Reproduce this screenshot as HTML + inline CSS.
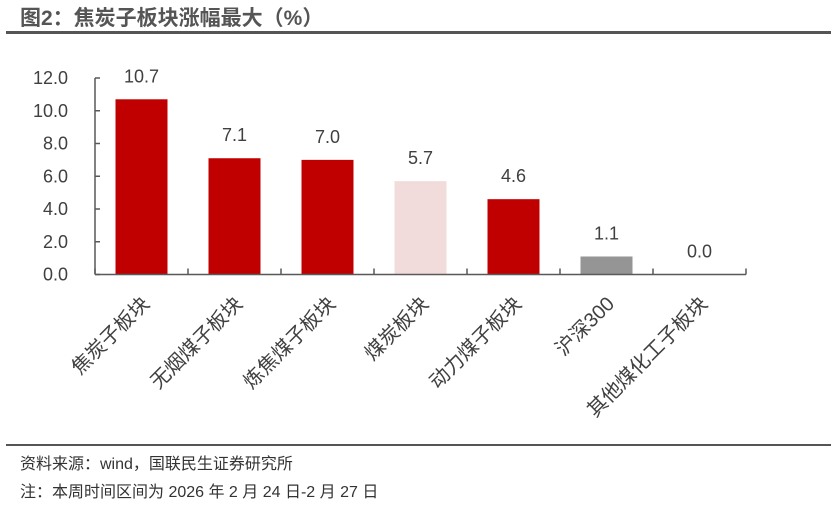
<!DOCTYPE html>
<html><head><meta charset="utf-8"><style>
body{margin:0;background:#fff;width:831px;height:507px;overflow:hidden;font-family:"Liberation Sans","Noto Sans CJK SC",sans-serif;}
</style></head><body>
<svg width="831" height="507" xmlns="http://www.w3.org/2000/svg" font-family="Liberation Sans, Noto Sans CJK SC, sans-serif">
<text x="20" y="25" font-size="21" font-weight="bold" fill="#555">图2：焦炭子板块涨幅最大（%）</text>
<rect x="6" y="31" width="825" height="3" fill="#555"/>
<g id="chart"></g>
<rect x="6" y="444" width="825" height="2" fill="#555"/>
<text x="20" y="469" font-size="16" fill="#333">资料来源：wind，国联民生证券研究所</text>
<text x="20" y="497" font-size="16" fill="#333">注：本周时间区间为 2026 年 2 月 24 日-2 月 27 日</text>
</svg>
<script>
const categories=["焦炭子板块","无烟煤子板块","炼焦煤子板块","煤炭板块","动力煤子板块","沪深300","其他煤化工子板块"];
const values=[10.7,7.1,7.0,5.7,4.6,1.1,0.0];
const barColors=["#C00000","#C00000","#C00000","#F2DCDB","#C00000","#959595","#C00000"];
const yTicks=[0,2,4,6,8,10,12];
const NS="http://www.w3.org/2000/svg";
const g=document.getElementById('chart');
const x0=95,x1=746,yBase=274.5,yTop=78,yMax=12;
const bw=(x1-x0)/categories.length;
const y=v=>yBase-(v/yMax)*(yBase-yTop);
const cx=i=>x0+bw*(i+0.5);
function el(t,a){const e=document.createElementNS(NS,t);for(const k in a)e.setAttribute(k,a[k]);g.appendChild(e);return e;}
const ya=el('line',{x1:x0,y1:yTop,x2:x0,y2:yBase,stroke:'#595959','stroke-width':1.5});


yTicks.forEach(t=>{
  const tk=el('line',{x1:x0,y1:y(t),x2:x0+5,y2:y(t),stroke:'#595959','stroke-width':1.5});
  
  
  const tl=el('text',{x:68,y:y(t)+6,'font-size':18,fill:'#404040','text-anchor':'end'});
  tl.textContent=t.toFixed(1);
  
  
});
values.forEach((v,i)=>{
  const r=el('rect',{x:cx(i)-26,y:y(v),width:52,height:yBase-y(v),fill:barColors[i]});
  
  
  const vl=el('text',{x:cx(i),y:y(v)-17,'font-size':18,fill:'#404040','text-anchor':'middle'});
  vl.textContent=v.toFixed(1);
  
  
  const cl=el('text',{x:0,y:0,'font-size':20,fill:'#404040','text-anchor':'end',transform:`translate(${cx(i)+9},${305}) rotate(-45)`});
  cl.textContent=categories[i];
  
  
});
const xa=el('line',{x1:x0,y1:yBase,x2:x1,y2:yBase,stroke:'#595959','stroke-width':1.5});


for(let i=0;i<=categories.length;i++){
  const t=el('line',{x1:x0+bw*i,y1:yBase,x2:x0+bw*i,y2:yBase-6,stroke:'#595959','stroke-width':1.5});
  
  
}
</script>
</body></html>
